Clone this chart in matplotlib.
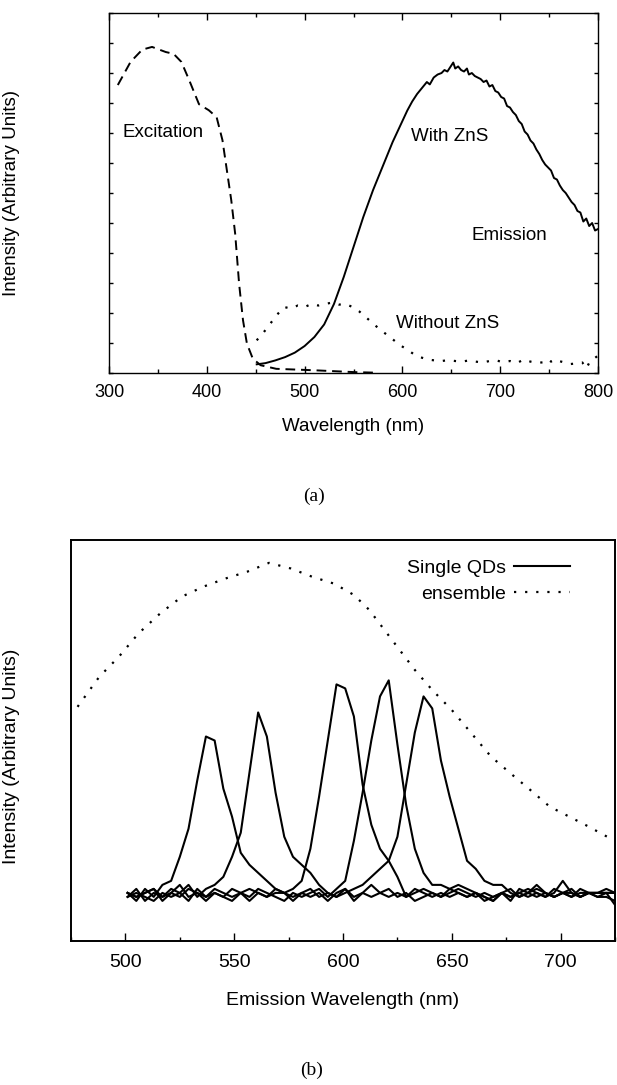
import matplotlib
matplotlib.use('Agg')
import matplotlib.pyplot as plt
from matplotlib.ticker import MultipleLocator, NullFormatter

plt.rcParams['font.family'] = ['Liberation Sans', 'DejaVu Sans']

# ---- panel (a) data (intensity in tick units 0-12) ----
exc_nm = [309, 322, 334, 344, 358, 366, 374, 382, 392, 402, 410, 416, 420, 425,
          429, 433, 437, 441, 447, 455, 471, 511, 551, 575]
exc_int = [9.6, 10.37, 10.78, 10.87, 10.7, 10.64, 10.37, 9.76, 8.96, 8.76, 8.53,
           7.76, 6.87, 5.76, 4.64, 2.98, 1.76, 0.98, 0.48, 0.26, 0.14, 0.09, 0.03, 0.01]

with_nm = [451, 460, 470, 480, 490, 500, 510, 520, 530, 540, 550, 560, 570, 580,
           590, 600, 605, 610, 615, 620, 625, 628, 632, 636, 640, 643, 646, 649,
           652, 654, 657, 660, 663, 666, 668, 671, 674, 677, 680, 683, 686, 689,
           692, 695, 698, 701, 704, 707, 710, 713, 716, 719, 722, 725, 728, 731,
           734, 737, 740, 743, 746, 749, 752, 755, 758, 761, 764, 767, 770, 773,
           776, 779, 782, 785, 788, 791, 794, 797, 800]
with_int = [0.29, 0.33, 0.42, 0.53, 0.68, 0.9, 1.2, 1.62, 2.3, 3.2, 4.2, 5.2, 6.1,
            6.9, 7.7, 8.4, 8.75, 9.05, 9.3, 9.5, 9.7, 9.62, 9.85, 9.95, 10.0, 10.1,
            10.05, 10.2, 10.35, 10.15, 10.22, 10.1, 10.05, 10.15, 9.95, 10.0, 9.9,
            9.85, 9.8, 9.7, 9.75, 9.55, 9.6, 9.4, 9.35, 9.2, 9.15, 8.9, 8.85, 8.7,
            8.6, 8.4, 8.3, 8.05, 7.95, 7.75, 7.65, 7.45, 7.3, 7.1, 6.95, 6.85, 6.75,
            6.5, 6.45, 6.25, 6.1, 6.0, 5.85, 5.7, 5.6, 5.4, 5.35, 5.05, 5.15, 4.9,
            5.0, 4.75, 4.8]

without_nm = [451, 458, 465, 472, 479, 486, 493, 500, 507, 514, 521, 528, 535, 542,
              549, 556, 563, 570, 577, 584, 591, 598, 605, 612, 619, 626, 633, 640,
              647, 654, 661, 668, 675, 682, 689, 696, 703, 710, 717, 724, 731, 738,
              745, 749, 752, 756, 760, 766, 772, 778, 784, 788, 792, 796, 800]
without_int = [1.09, 1.35, 1.65, 1.95, 2.2, 2.15, 2.25, 2.2, 2.3, 2.25, 2.3, 2.35,
               2.28, 2.3, 2.2, 2.05, 1.85, 1.65, 1.45, 1.28, 1.1, 0.92, 0.78, 0.62,
               0.52, 0.45, 0.42, 0.4, 0.43, 0.4, 0.38, 0.42, 0.38, 0.35, 0.4, 0.42,
               0.36, 0.4, 0.33, 0.45, 0.38, 0.34, 0.36, 0.45, 0.38, 0.45, 0.4, 0.35,
               0.3, 0.32, 0.35, 0.15, 0.4, 0.48, 0.58]

# ---- panel (b) data (intensity in % of axis height) ----
ens_nm = [478, 488, 497, 506, 516, 526, 536, 546, 556, 566, 576, 586, 596, 605,
          612, 619, 626, 633, 641, 650, 659, 668, 677, 686, 695, 704, 713, 720, 725]
ens_int = [58.4, 65.9, 70.9, 76.7, 81.7, 85.9, 88.4, 90.4, 92.1, 94.3, 92.9, 90.8,
           89.1, 86.3, 82.6, 77.6, 72.6, 67.6, 62.6, 57.6, 51.8, 46.0, 41.8, 37.7,
           33.5, 31.0, 28.5, 26.4, 25.0]

qd_nm = [501, 505, 509, 513, 517, 521, 525, 529, 533, 537, 541, 545, 549, 553, 557,
         561, 565, 569, 573, 577, 581, 585, 589, 593, 597, 601, 605, 609, 613, 617,
         621, 625, 629, 633, 637, 641, 645, 649, 653, 657, 661, 665, 669, 673, 677,
         681, 685, 689, 693, 697, 701, 705, 709, 713, 717, 721, 725]
qd_537 = [12, 10, 13, 11, 14, 15, 21, 28, 40, 51, 50, 38, 31, 22, 19, 17, 15, 13, 12,
          10, 12, 11, 12, 10, 12, 13, 11, 12, 14, 12, 11, 12, 11, 13, 12, 11, 12, 11,
          12, 11, 12, 10, 11, 12, 11, 12, 11, 12, 11, 13, 12, 11, 12, 12, 12, 12, 12]
qd_561 = [11, 13, 10, 12, 11, 13, 12, 14, 11, 13, 14, 16, 21, 27, 42, 57, 51, 37, 26,
          21, 19, 17, 14, 12, 11, 13, 10, 12, 11, 12, 13, 11, 12, 10, 11, 12, 11, 13,
          12, 11, 12, 11, 10, 12, 13, 11, 12, 14, 12, 11, 12, 13, 11, 12, 12, 13, 12]
qd_598 = [12, 11, 12, 13, 10, 12, 14, 11, 12, 10, 12, 11, 13, 12, 10, 12, 11, 12, 12,
          13, 15, 23, 36, 50, 64, 63, 56, 39, 29, 23, 20, 16, 11, 12, 13, 12, 11, 12,
          13, 12, 11, 12, 11, 12, 10, 13, 12, 11, 12, 11, 12, 12, 11, 12, 11, 11, 10]
qd_620 = [11, 12, 11, 10, 12, 11, 12, 10, 13, 11, 12, 11, 10, 12, 11, 13, 12, 11, 10,
          12, 11, 12, 13, 11, 13, 15, 25, 37, 50, 61, 65, 49, 34, 23, 17, 14, 14, 13,
          14, 13, 12, 11, 10, 12, 11, 12, 13, 12, 11, 12, 15, 12, 11, 12, 12, 12, 9]
qd_639 = [12, 11, 12, 13, 11, 12, 11, 13, 12, 11, 13, 12, 11, 12, 13, 12, 11, 13, 12,
          11, 12, 13, 11, 12, 11, 12, 13, 14, 16, 18, 20, 26, 39, 52, 61, 58, 45, 36,
          28, 20, 18, 15, 14, 14, 12, 11, 12, 13, 12, 11, 12, 11, 13, 12, 11, 12, 12]

fig = plt.figure(figsize=(6.17, 10.85), dpi=100)

# ================= (a) =================
ax1 = fig.add_axes([0.1767, 0.6562, 0.7925, 0.3318])
ax1.plot(exc_nm, exc_int, color='black', lw=1.4, linestyle=(0, (5, 3)))
ax1.plot(with_nm, with_int, color='black', lw=1.4)
ax1.plot(without_nm, without_int, color='black', lw=1.6, linestyle=(0, (1, 4)))
ax1.set_xlim(300, 800)
ax1.set_ylim(0, 12)
ax1.xaxis.set_major_locator(MultipleLocator(100))
ax1.xaxis.set_minor_locator(MultipleLocator(50))
ax1.yaxis.set_major_locator(MultipleLocator(1))
ax1.yaxis.set_major_formatter(NullFormatter())
ax1.tick_params(axis='x', which='major', direction='in', length=5, width=1,
                top=True, labelsize=13, pad=8)
ax1.tick_params(axis='x', which='minor', direction='in', length=3, width=1, top=True)
ax1.tick_params(axis='y', which='major', direction='in', length=3, width=1, right=True)
for s in ax1.spines.values():
    s.set_linewidth(1.0)
ax1.set_xlabel('Wavelength (nm)', fontsize=13.5)
ax1.xaxis.set_label_coords(0.5, -0.125)
ax1.set_ylabel('Intensity (Arbitrary Units)', fontsize=13.5)
ax1.yaxis.set_label_coords(-0.182, 0.5)

ax1.text(314, 8.03, 'Excitation', fontsize=13.5, va='center')
ax1.text(609, 7.87, 'With ZnS', fontsize=13.5, va='center')
ax1.text(671, 4.59, 'Emission', fontsize=13.5, va='center')
ax1.text(593, 1.64, 'Without ZnS', fontsize=13.5, va='center')

fig.text(314 / 617, 1 - 496 / 1085, '(a)', ha='center', va='center',
         fontsize=14, family='Liberation Serif')

# ================= (b) =================
ax2 = fig.add_axes([0.1151, 0.1327, 0.8817, 0.3696])
for i, trace in enumerate([qd_537, qd_561, qd_598, qd_620, qd_639]):
    ax2.plot(qd_nm, trace, color='black', lw=1.5,
             label='Single QDs' if i == 0 else None)
ax2.plot(ens_nm, ens_int, color='black', lw=1.6, linestyle=(0, (1, 4)),
         label='ensemble')
ax2.set_xlim(475, 725)
ax2.set_ylim(0, 100)
ax2.xaxis.set_major_locator(MultipleLocator(50))
ax2.xaxis.set_minor_locator(MultipleLocator(25))
ax2.set_yticks([])
ax2.tick_params(axis='x', which='major', direction='in', length=6, width=1,
                labelsize=14, pad=9)
ax2.tick_params(axis='x', which='minor', direction='in', length=3, width=1)
for s in ax2.spines.values():
    s.set_linewidth(1.4)
ax2.set_xlabel('Emission Wavelength (nm)', fontsize=14)
ax2.xaxis.set_label_coords(0.5, -0.128)
ax2.set_ylabel('Intensity (Arbitrary Units)', fontsize=14)
ax2.yaxis.set_label_coords(-0.094, 0.46)
ax2.legend(loc='upper right', bbox_to_anchor=(0.95, 0.995), frameon=False,
           markerfirst=False, handlelength=2.9, fontsize=14, labelspacing=0.4,
           handletextpad=0.4, alignment='right')

fig.text(312 / 617, 1 - 1070 / 1085, '(b)', ha='center', va='center',
         fontsize=14, family='Liberation Serif')

fig.savefig('out.png', dpi=100, facecolor='white')
